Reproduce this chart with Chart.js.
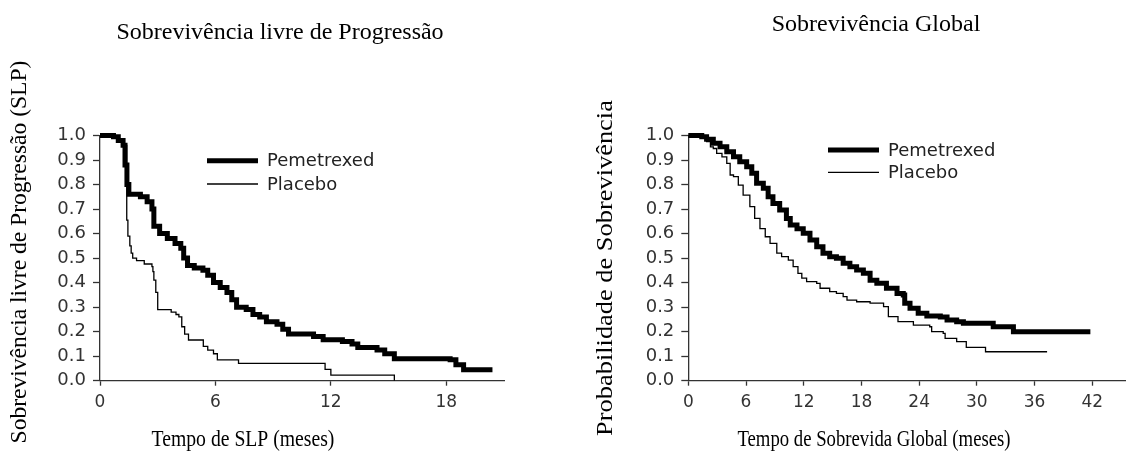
<!DOCTYPE html>
<html>
<head>
<meta charset="utf-8">
<script src="https://cdn.jsdelivr.net/npm/chart.js@4"></script>
<style>
  body { margin: 0; background: #fff; width: 1126px; height: 453px; overflow: hidden; position: relative; }
  canvas { position: absolute; top: 0; }
  #slp { left: 0; }
  #sg { left: 560px; }
</style>
</head>
<body>
<canvas id="slp" width="560" height="453"></canvas>
<canvas id="sg" width="566" height="453"></canvas>
<script>
// tick labels
const slpTicks = [0, 6, 12, 18];
const sgTicks = [0, 6, 12, 18, 24, 30, 36, 42];
const probTicks = [0, 0.1, 0.2, 0.3, 0.4, 0.5, 0.6, 0.7, 0.8, 0.9, 1.0];

// Kaplan-Meier curves: [months, probability]
const slpPemetrexed = [
  [0, 1.0], [0.7, 0.995], [0.95, 0.98], [1.2, 0.96], [1.3, 0.88], [1.4, 0.8], [1.5, 0.76],
  [2.1, 0.75], [2.45, 0.73], [2.7, 0.7], [2.8, 0.63], [3.1, 0.6], [3.5, 0.58], [3.9, 0.56],
  [4.2, 0.54], [4.35, 0.5], [4.55, 0.47], [4.9, 0.46], [5.35, 0.45], [5.6, 0.43], [5.9, 0.4],
  [6.25, 0.38], [6.6, 0.36], [6.85, 0.33], [7.1, 0.3], [7.6, 0.29], [7.95, 0.27], [8.3, 0.26],
  [8.65, 0.24], [9.2, 0.23], [9.5, 0.21], [9.8, 0.19], [11.1, 0.18], [11.6, 0.167], [12.6, 0.16],
  [13.1, 0.15], [13.4, 0.135], [14.4, 0.125], [14.8, 0.11], [15.3, 0.09], [18.2, 0.085],
  [18.5, 0.065], [18.9, 0.045], [20.4, 0.045]
];
const slpPlacebo = [
  [0, 1.0], [0.8, 0.99], [1.0, 0.98], [1.25, 0.96], [1.39, 0.655], [1.45, 0.59], [1.55, 0.55],
  [1.62, 0.52], [1.7, 0.5], [1.9, 0.49], [2.3, 0.476], [2.7, 0.465], [2.75, 0.445], [2.8, 0.41],
  [2.9, 0.36], [3.0, 0.29], [3.7, 0.28], [3.95, 0.27], [4.1, 0.26], [4.25, 0.22], [4.4, 0.19],
  [4.6, 0.166], [5.37, 0.14], [5.6, 0.125], [5.9, 0.11], [6.1, 0.085], [7.2, 0.071],
  [11.7, 0.046], [12.0, 0.023], [15.3, 0.0]
];
const sgPemetrexed = [
  [0, 1.0], [1.4, 0.995], [1.9, 0.985], [2.6, 0.968], [3.3, 0.954], [4.0, 0.934], [4.7, 0.913],
  [5.35, 0.893], [6.07, 0.873], [6.6, 0.846], [7.1, 0.805], [7.8, 0.785], [8.3, 0.75],
  [8.8, 0.723], [9.5, 0.696], [10.2, 0.662], [10.6, 0.635], [11.3, 0.62], [11.95, 0.601],
  [12.65, 0.574], [13.35, 0.546], [14.0, 0.52], [14.7, 0.506], [15.4, 0.499], [16.1, 0.479],
  [16.8, 0.465], [17.5, 0.451], [18.2, 0.438], [18.9, 0.41], [19.6, 0.397], [20.6, 0.377],
  [21.7, 0.356], [22.35, 0.35], [22.5, 0.316], [23.05, 0.295], [23.9, 0.275], [24.8, 0.264],
  [26.2, 0.26], [26.9, 0.248], [27.9, 0.24], [28.6, 0.234], [31.7, 0.22], [33.8, 0.2], [41.8, 0.2]
];
const sgPlacebo = [
  [0, 1.0], [1.5, 0.99], [1.9, 0.975], [2.3, 0.954], [2.6, 0.947], [2.95, 0.927], [3.5, 0.913],
  [4.0, 0.886], [4.35, 0.839], [4.7, 0.832], [5.2, 0.798], [5.7, 0.757], [6.4, 0.71], [6.9, 0.662],
  [7.45, 0.62], [8.0, 0.587], [8.5, 0.56], [9.2, 0.52], [9.7, 0.506], [10.4, 0.492], [10.9, 0.465],
  [11.4, 0.438], [11.8, 0.418], [12.3, 0.404], [13.35, 0.397], [13.7, 0.377], [14.7, 0.363],
  [15.4, 0.356], [16.1, 0.343], [16.5, 0.329], [17.5, 0.322], [18.9, 0.316], [20.3, 0.302],
  [20.8, 0.261], [21.8, 0.241], [23.4, 0.227], [25.1, 0.22], [25.3, 0.2], [26.5, 0.193],
  [26.7, 0.173], [27.9, 0.159], [28.9, 0.136], [30.9, 0.118], [37.3, 0.118]
];

const serif = '"Liberation Serif", "Times New Roman", serif';
const sans = '"DejaVu Sans", sans-serif';

// draw text centred at (x, y), squeezed or stretched along its own length
function stretchedText(ctx, text, x, y, rot, sx) {
  ctx.save();
  ctx.translate(x, y);
  ctx.rotate(rot);
  ctx.scale(sx, 1);
  ctx.fillText(text, 0, 0);
  ctx.restore();
}

// titles, axis titles and the line legend
const decor = {
  id: 'decor',
  afterDraw(chart, args, o) {
    const ctx = chart.ctx;
    ctx.save();
    ctx.fillStyle = '#000';
    ctx.textAlign = 'center';
    ctx.textBaseline = 'middle';
    ctx.font = '24px ' + serif;
    ctx.fillText(o.title, o.titleX, o.titleY);
    stretchedText(ctx, o.xTitle, o.xTitleX, o.xTitleY, 0, o.xTitleScale);
    stretchedText(ctx, o.yTitle, o.yTitleX, o.yTitleY, -Math.PI / 2, o.yTitleScale);

    ctx.font = '18px ' + sans;
    ctx.textAlign = 'left';
    chart.data.datasets.forEach((ds, i) => {
      const y = o.legendY[i];
      ctx.strokeStyle = '#000';
      ctx.lineWidth = ds.borderWidth;
      ctx.beginPath();
      ctx.moveTo(o.legendX, y);
      ctx.lineTo(o.legendX + 51, y);
      ctx.stroke();
      ctx.fillStyle = '#222';
      ctx.fillText(ds.label, o.legendX + 60, y + 1);
    });
    ctx.restore();
  }
};

function toXY(rows) {
  return rows.map(r => ({ x: r[0], y: r[1] }));
}

function kmChart(id, pem, pla, xTicks, xMax, padRight, yWidth, decorOpts) {
  new Chart(document.getElementById(id), {
    type: 'line',
    data: {
      datasets: [
        { label: 'Pemetrexed', data: toXY(pem), borderColor: '#000', borderWidth: 5,
          stepped: true, pointRadius: 0, fill: false, clip: false, borderJoinStyle: 'miter' },
        { label: 'Placebo', data: toXY(pla), borderColor: '#000', borderWidth: 1.3,
          stepped: true, pointRadius: 0, fill: false, clip: false }
      ]
    },
    options: {
      responsive: false,
      animation: false,
      events: [],
      layout: { padding: { top: 135.5, right: padRight, left: 0, bottom: 0 } },
      plugins: { legend: { display: false }, tooltip: { enabled: false }, decor: decorOpts },
      scales: {
        x: {
          type: 'linear', min: 0, max: xMax,
          afterBuildTicks: s => { s.ticks = xTicks.map(v => ({ value: v })); },
          afterFit: s => { s.height = 453 - 380.7; },
          grid: { drawOnChartArea: false, drawTicks: true, tickLength: 5, tickColor: '#333', tickWidth: 1.3 },
          border: { display: true, color: '#333', width: 1.3 },
          ticks: { font: { family: sans, size: 17 }, color: '#333', padding: 7, maxRotation: 0, autoSkip: false }
        },
        y: {
          min: 0, max: 1,
          afterBuildTicks: s => { s.ticks = probTicks.map(v => ({ value: v })); },
          afterFit: s => { s.width = yWidth; },
          grid: { drawOnChartArea: false, drawTicks: true, tickLength: 7, tickColor: '#333', tickWidth: 1.3 },
          border: { display: true, color: '#333', width: 1.3 },
          ticks: { font: { family: sans, size: 18 }, color: '#333', padding: 7, autoSkip: false,
                   callback: v => v.toFixed(1) }
        }
      }
    },
    plugins: [decor]
  });
}

kmChart('slp', slpPemetrexed, slpPlacebo, slpTicks, 21, 56, 100, {
  title: 'Sobrevivência livre de Progressão', titleX: 280, titleY: 33,
  xTitle: 'Tempo de SLP (meses)', xTitleX: 243, xTitleY: 440, xTitleScale: 0.82,
  yTitle: 'Sobrevivência livre de Progressão (SLP)', yTitleX: 20, yTitleY: 252, yTitleScale: 0.98,
  legendX: 207, legendY: [160.7, 184]
});

kmChart('sg', sgPemetrexed, sgPlacebo, sgTicks, 45.4, 1, 128.3, {
  title: 'Sobrevivência Global', titleX: 316, titleY: 25,
  xTitle: 'Tempo de Sobrevida Global (meses)', xTitleX: 314, xTitleY: 440, xTitleScale: 0.78,
  yTitle: 'Probabilidade de Sobrevivência', yTitleX: 46, yTitleY: 268, yTitleScale: 1.1,
  legendX: 268, legendY: [150, 172.3]
});
</script>
</body>
</html>
